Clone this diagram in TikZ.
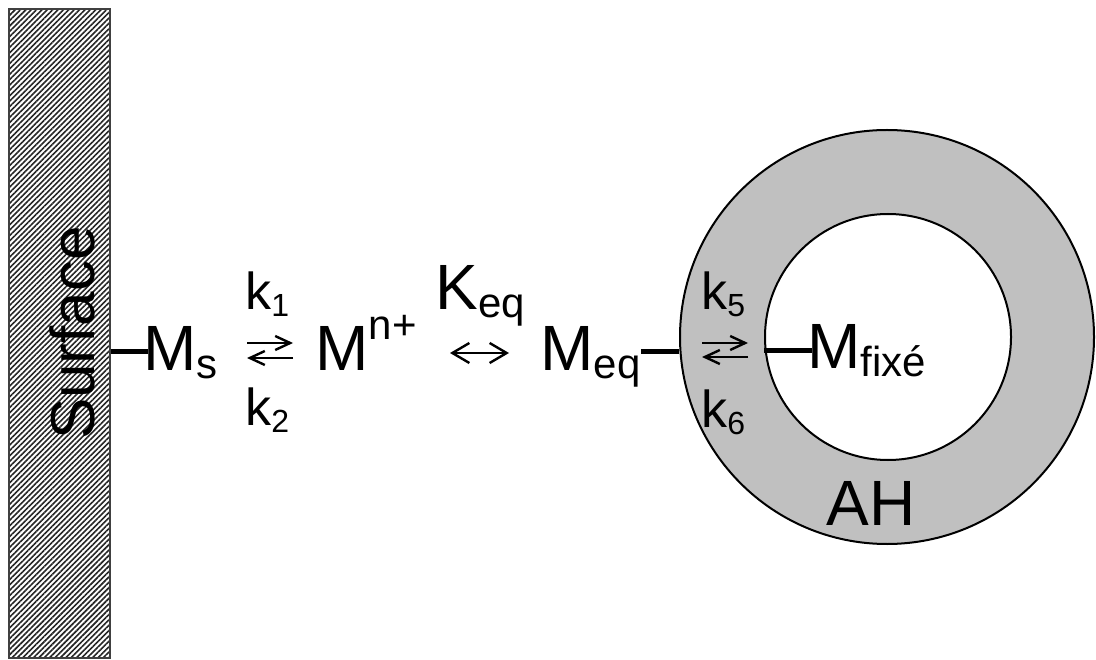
\documentclass[tikz,border=0pt]{standalone}
\usepackage{fontspec}
\setmainfont{Liberation Sans}
\usetikzlibrary{arrows.meta,patterns.meta}

\definecolor{ringgray}{RGB}{192,192,192}
\newcommand{\lowidx}[1]{\raisebox{-4pt}{\fontsize{21}{21}\selectfont #1}}
\newcommand{\highidx}[1]{\raisebox{15pt}{\fontsize{21}{21}\selectfont #1}}
\newcommand{\kidx}[1]{\raisebox{-3.5pt}{\fontsize{16}{16}\selectfont #1}}

\begin{document}
\begin{tikzpicture}[x=0.5pt, y=0.5pt, every node/.style={inner sep=0pt, font=\fontsize{32}{38}\selectfont},
  species/.style={anchor=base west},
  rate/.style={anchor=base west, font=\fontsize{26}{30}\selectfont},
  bond/.style={line width=2.5pt},
  rarr/.style={-{Straight Barb[length=7.5pt,width=7pt]}, line width=1.2pt},
  darr/.style={{Straight Barb[length=8.5pt,width=10pt]}-{Straight Barb[length=8.5pt,width=10pt]}, line width=1.2pt}]
\useasboundingbox (0,0) rectangle (1096,659);
% Surface
\node[draw=black!75, line width=1pt, minimum width=50.5pt, minimum height=324.5pt,
  pattern={Lines[angle=45,distance=1.9pt,line width=0.8pt]}, pattern color=black!85] (surf) at (59.5,325.5) {};
\node[rotate=90, font=\fontsize{31}{36}\selectfont] (surflabel) at (72,326) {Surface};
% AH ring
\node[circle, draw, line width=1pt, fill=ringgray, minimum size=207pt] (ring) at (887,322) {};
\node[circle, draw, line width=1pt, fill=white, minimum size=123pt] (hole) at (888,322) {};
\node[anchor=base] (ah) at (871,134) {AH};
% Species
\node[species] (ms) at (143,289) {M\lowidx{s}};
\node[species] (mion) at (315,289) {M\highidx{n+}};
\node[species] (keq) at (435,349) {K\lowidx{eq}};
\node[species] (meq) at (540,289) {M\lowidx{eq}};
\node[species] (mfix) at (807,291) {M\lowidx{fixé}};
% Rate constants
\node[rate] (k1) at (245,349) {k\kidx{1}};
\node[rate] (k2) at (245,234) {k\kidx{2}};
\node[rate] (k5) at (701,349) {k\kidx{5}};
\node[rate] (k6) at (701,232) {k\kidx{6}};
% Bonds
\coordinate (msbond) at ([xshift=2.5pt,yshift=9pt]ms.base west);
\coordinate (meqbond) at ([yshift=9pt]meq.base east);
\coordinate (mfixbond) at ([xshift=2.5pt,yshift=8.5pt]mfix.base west);
\draw[bond] (surf.east |- msbond) -- (msbond);
\draw[bond] (meqbond) -- (meqbond -| ring.west);
\draw[bond] (hole.west |- mfixbond) -- (mfixbond);
% Reaction arrows
\coordinate (r1a) at (247,316);
\coordinate (r1b) at (293,316);
\coordinate (r2a) at (247,301);
\coordinate (r2b) at (293,301);
\coordinate (e1) at (450,306);
\coordinate (e2) at (509,306);
\coordinate (r5a) at (702,316);
\coordinate (r5b) at (748,316);
\coordinate (r6a) at (702,302);
\coordinate (r6b) at (748,302);
\draw[rarr] (r1a) -- (r1b);
\draw[rarr] (r2b) -- (r2a);
\draw[darr] (e1) -- (e2);
\draw[rarr] (r5a) -- (r5b);
\draw[rarr] (r6b) -- (r6a);
\end{tikzpicture}
\end{document}
